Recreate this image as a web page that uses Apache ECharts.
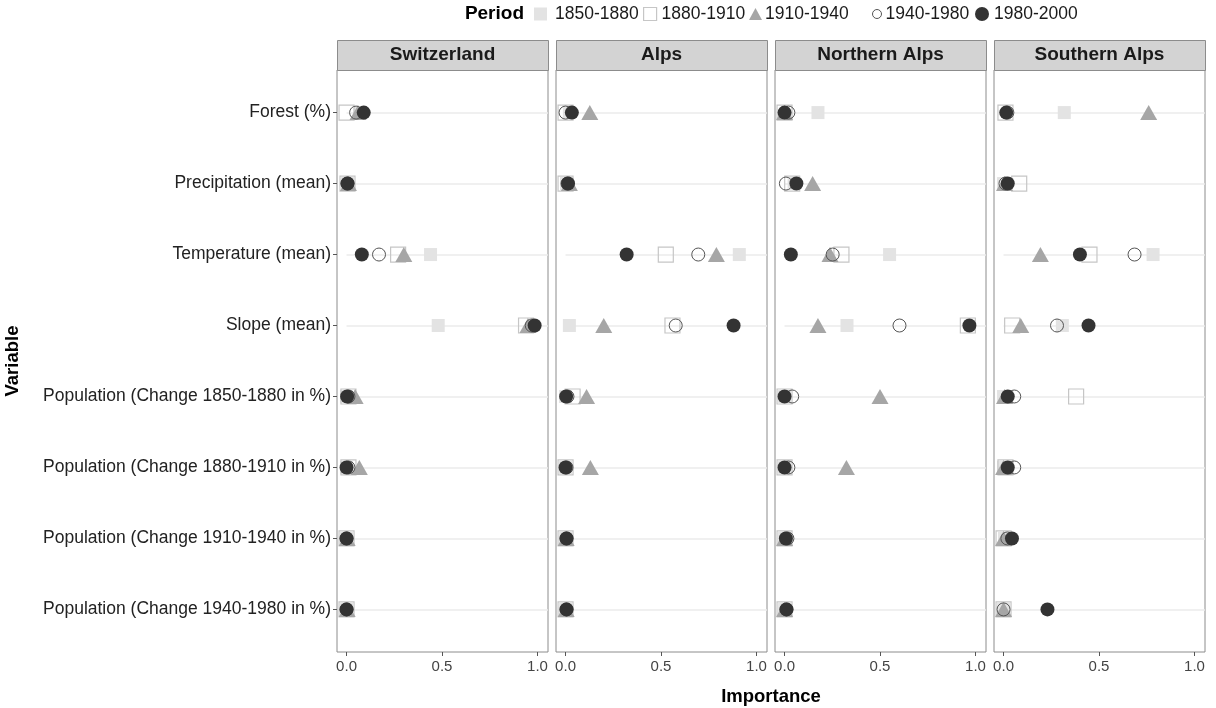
<!DOCTYPE html>
<html><head><meta charset="utf-8">
<script src="https://cdn.jsdelivr.net/npm/echarts@6/dist/echarts.min.js"></script>
<style>html,body{margin:0;padding:0;background:#fff}#c{width:1216px;height:708px}</style>
</head><body><div id="c"></div><script>
// ---- data ----
const categories = ['Forest (%)','Precipitation (mean)','Temperature (mean)','Slope (mean)',
  'Population (Change 1850-1880 in %)','Population (Change 1880-1910 in %)',
  'Population (Change 1910-1940 in %)','Population (Change 1940-1980 in %)'];
const regions = ['Switzerland','Alps','Northern Alps','Southern Alps'];
const periods = ['1850-1880','1880-1910','1910-1940','1940-1980','1980-2000'];
const xTicks = [0, 0.5, 1.0];

// each region: one array per period (same order as periods), values per category
const switzerland = [
  [0.07, 0.005, 0.44, 0.48, 0.0, 0.0, 0.0, 0.0],
  [0.0, 0.005, 0.27, 0.94, 0.01, 0.01, 0.0, 0.0],
  [0.06, 0.01, 0.30, 0.95, 0.045, 0.067, 0.003, 0.003],
  [0.05, 0.005, 0.17, 0.97, 0.01, 0.01, 0.0, 0.0],
  [0.09, 0.005, 0.08, 0.985, 0.003, 0.0, 0.0, 0.0]
];
const alps = [
  [0.02, 0.005, 0.91, 0.02, 0.0, 0.0, 0.0, 0.0],
  [0.0, 0.0, 0.525, 0.56, 0.037, 0.0, 0.0, 0.0],
  [0.127, 0.02, 0.79, 0.20, 0.11, 0.13, 0.003, 0.003],
  [0.0, 0.01, 0.695, 0.577, 0.01, 0.005, 0.005, 0.005],
  [0.033, 0.013, 0.32, 0.88, 0.003, 0.0, 0.005, 0.005]
];
const northernAlps = [
  [0.175, 0.05, 0.55, 0.327, 0.0, 0.0, 0.0, 0.0],
  [0.0, 0.04, 0.298, 0.96, 0.0, 0.0, 0.0, 0.0],
  [0.0, 0.147, 0.238, 0.175, 0.5, 0.324, 0.0, 0.0],
  [0.02, 0.007, 0.252, 0.602, 0.04, 0.02, 0.015, 0.01],
  [0.0, 0.062, 0.033, 0.968, 0.0, 0.0, 0.007, 0.01]
];
const southernAlps = [
  [0.318, 0.0, 0.783, 0.308, 0.0, 0.0, 0.005, 0.0],
  [0.01, 0.082, 0.45, 0.045, 0.38, 0.01, 0.0, 0.0],
  [0.76, 0.005, 0.193, 0.09, 0.005, 0.0, 0.0, 0.0],
  [0.02, 0.01, 0.686, 0.28, 0.056, 0.056, 0.02, 0.0],
  [0.014, 0.022, 0.40, 0.445, 0.022, 0.022, 0.044, 0.23]
];
const regionData = [switzerland, alps, northernAlps, southernAlps];

// ---- layout / style ----
const FONT = '"Liberation Sans", Arial, sans-serif';
const panelLeft0 = 337, panelStep = 219, panelW = 211, panelTop = 70, panelH = 582;
const stripTop = 40, stripH = 30;
const xMin = -0.05, xMax = 1.055, yMin = -0.6, yMax = 7.6;

const styles = [
  {symbol:'rect', size:13, itemStyle:{color:'#e3e3e3', borderWidth:0, opacity:1}},
  {symbol:'rect', size:15, itemStyle:{color:'rgba(255,255,255,0)', borderColor:'#c6c6c6', borderWidth:1.2, opacity:1}},
  {symbol:'triangle', size:[17,15], itemStyle:{color:'#a6a6a6', borderWidth:0, opacity:1}},
  {symbol:'circle', size:13, itemStyle:{color:'rgba(255,255,255,0)', borderColor:'#555555', borderWidth:1, opacity:1}},
  {symbol:'circle', size:14, itemStyle:{color:'#333333', borderWidth:0, opacity:1}}
];
// legend key placement (icon left x, icon size, icon-text gap)
const legendKeys = [
  {left:534, w:13, h:13, gap:8},
  {left:643, w:13, h:13, gap:5},
  {left:749, w:13, h:12, gap:3},
  {left:872, w:9,  h:9,  gap:4},
  {left:975, w:14, h:14, gap:5}
];

const grids = [], xAxes = [], yAxes = [], series = [], graphics = [];
regions.forEach((reg, gi) => {
  const left = panelLeft0 + gi * panelStep;
  grids.push({left: left, top: panelTop, width: panelW, height: panelH,
    show: true, borderColor: '#8c8c8c', borderWidth: 1, backgroundColor: '#fff', containLabel: false});
  xAxes.push({type:'value', gridIndex: gi, min: xMin, max: xMax, position:'bottom',
    axisLine:{show:false, onZero:false}, splitLine:{show:false},
    axisTick:{show:true, customValues: xTicks, length:4, lineStyle:{color:'#555'}},
    axisLabel:{customValues: xTicks, formatter: v => v.toFixed(1), fontFamily: FONT, fontSize: 15, color:'#444', margin: 7}
  });
  yAxes.push({type:'value', gridIndex: gi, inverse: true, min: yMin, max: yMax, position:'left',
    axisLine:{show:false, onZero:false}, splitLine:{show:false},
    axisTick:{show: gi === 0, customValues: categories.map((c,i)=>i), length:4, lineStyle:{color:'#555'}},
    axisLabel:{show: gi === 0, customValues: categories.map((c,i)=>i),
      formatter: v => categories[Math.round(v)], fontFamily: FONT, fontSize: 17.5, color:'#222', margin: 6}
  });
  // row guide lines
  series.push({type:'lines', coordinateSystem:'cartesian2d', xAxisIndex: gi, yAxisIndex: gi,
    silent: true, z: 1, animation: false,
    lineStyle:{color:'#ebebeb', width:1.5, opacity:1},
    data: categories.map((c,i)=>({coords:[[0,i],[xMax,i]]}))
  });
  periods.forEach((p, pi) => {
    const st = styles[pi];
    series.push({type:'scatter', name: p, xAxisIndex: gi, yAxisIndex: gi, z: 3 + pi,
      symbol: st.symbol, symbolSize: st.size, itemStyle: st.itemStyle, animation: false,
      emphasis:{disabled:true},
      data: regionData[gi][pi].map((v,i)=>[v, i])
    });
  });
  graphics.push({type:'rect', left: left, top: stripTop, shape:{width: panelW, height: stripH},
    style:{fill:'#d3d3d3', stroke:'#8c8c8c', lineWidth:1}});
  graphics.push({type:'text', x: left + panelW/2, y: stripTop + stripH/2,
    style:{text: reg, fontFamily: FONT, fontWeight:'bold', fontSize: 19, fill:'#1a1a1a', align:'center', verticalAlign:'middle'}});
});

graphics.push({type:'text', x: 771, y: 697,
  style:{text:'Importance', fontFamily: FONT, fontWeight:'bold', fontSize: 18.5, fill:'#000', align:'center', verticalAlign:'middle'}});
graphics.push({type:'text', x: 13, y: 361, rotation: Math.PI/2,
  style:{text:'Variable', fontFamily: FONT, fontWeight:'bold', fontSize: 18.5, fill:'#000', align:'center', verticalAlign:'middle'}});
graphics.push({type:'text', x: 524, y: 14,
  style:{text:'Period', fontFamily: FONT, fontWeight:'bold', fontSize: 19, fill:'#000', align:'right', verticalAlign:'middle'}});

const legends = periods.map((p, pi) => {
  const k = legendKeys[pi];
  const st = styles[pi];
  return {data:[{name: p, icon: st.symbol, itemStyle: Object.assign({}, st.itemStyle)}],
    left: k.left, top: 5, padding: 0, itemWidth: k.w, itemHeight: k.h,
    selectedMode: false,
    textStyle:{fontFamily: FONT, fontSize: 17.5, color:'#1a1a1a', padding:[0,0,0,k.gap - 5]}};
});

const chart = echarts.init(document.getElementById('c'), null, {renderer:'canvas'});
chart.setOption({
  animation: false,
  backgroundColor: '#fff',
  grid: grids, xAxis: xAxes, yAxis: yAxes, series: series, graphic: graphics,
  legend: legends
});
</script></body></html>
